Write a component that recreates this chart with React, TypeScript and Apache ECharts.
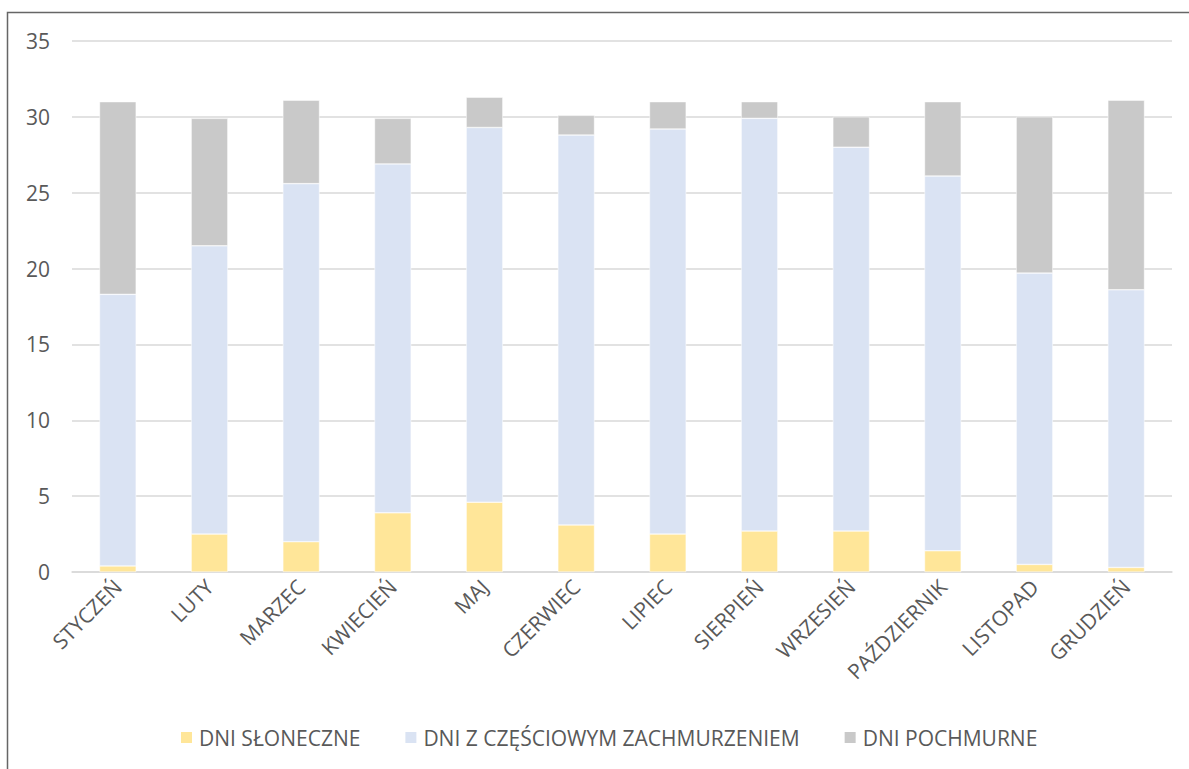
import React, { useEffect, useRef } from "react";
import * as echarts from "echarts";

const months = [
  "STYCZEŃ", "LUTY", "MARZEC", "KWIECIEŃ", "MAJ", "CZERWIEC",
  "LIPIEC", "SIERPIEŃ", "WRZESIEŃ", "PAŹDZIERNIK", "LISTOPAD", "GRUDZIEŃ",
];
const sunnyDays = [0.4, 2.5, 2.0, 3.9, 4.6, 3.1, 2.5, 2.7, 2.7, 1.4, 0.5, 0.3];
const partlyCloudyDays = [17.9, 19.0, 23.6, 23.0, 24.7, 25.7, 26.7, 27.2, 25.3, 24.7, 19.2, 18.3];
const cloudyDays = [12.7, 8.4, 5.5, 3.0, 2.0, 1.3, 1.8, 1.1, 2.0, 4.9, 10.3, 12.5];
const seriesNames = ["DNI SŁONECZNE", "DNI Z CZĘŚCIOWYM ZACHMURZENIEM", "DNI POCHMURNE"];
const seriesColors = ["#FFE699", "#DAE3F3", "#C9C9C9"];

const FONT = "'Open Sans', 'Liberation Sans', sans-serif";
const TEXT = "#595959";

export default function App() {
  const ref = useRef<HTMLDivElement>(null);
  useEffect(() => {
    document.body.style.margin = "0";
    const chart = echarts.init(ref.current!, null, { renderer: "svg" });
    const dataSets = [sunnyDays, partlyCloudyDays, cloudyDays];
    chart.setOption({
      animation: false,
      backgroundColor: "#ffffff",
      textStyle: { fontFamily: FONT },
      grid: { left: 72, right: 17, top: 41, bottom: 197, containLabel: false },
      legend: {
        bottom: 21,
        left: 179,
        padding: 0,
        itemWidth: 13,
        itemHeight: 13,
        itemGap: 43,
        icon: "rect",
        textStyle: { color: TEXT, fontSize: 21, fontFamily: FONT, padding: [0, 0, 0, 1] },
        data: seriesNames,
      },
      xAxis: {
        type: "category",
        data: months,
        axisLine: { show: true, lineStyle: { color: "#D9D9D9", width: 1.5 } },
        axisTick: { show: false },
        axisLabel: { rotate: 45, color: TEXT, fontSize: 21, fontFamily: FONT, margin: 11, interval: 0 },
      },
      yAxis: {
        type: "value",
        min: 0,
        max: 35,
        interval: 5,
        axisLine: { show: false },
        axisTick: { show: false },
        splitLine: { lineStyle: { color: "#D9D9D9", width: 1.5 } },
        axisLabel: { color: TEXT, fontSize: 21, fontFamily: FONT, margin: 22 },
      },
      series: dataSets.map((d, i) => ({
        name: seriesNames[i],
        type: "bar",
        stack: "days",
        data: d,
        barWidth: "40%",
        itemStyle: { color: seriesColors[i], borderColor: "#ffffff", borderWidth: 0.5 },
      })),
      graphic: [
        {
          type: "rect",
          shape: { x: 7.5, y: 12.5, width: 1300, height: 900 },
          style: { fill: "none", stroke: "#666666", lineWidth: 1.5 },
          silent: true,
        },
      ],
    });
    return () => chart.dispose();
  }, []);
  return <div ref={ref} style={{ width: 1189, height: 769 }} />;
}
